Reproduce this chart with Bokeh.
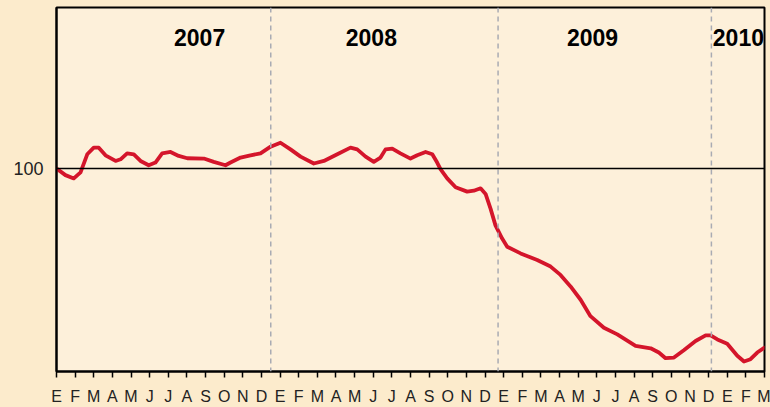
from bokeh.plotting import figure
from bokeh.models import Span, Label, FixedTicker, Range1d
from bokeh.embed import file_html
from bokeh.resources import INLINE

# ---- data (month index from Jan 2007 = 0) ----
months = [0.0, 0.48, 0.93, 1.29, 1.65, 2.00, 2.27, 2.63, 3.17, 3.44, 3.79, 4.15,
          4.51, 4.95, 5.31, 5.67, 6.12, 6.56, 7.02, 7.91, 8.44, 9.07, 9.34, 9.88,
          10.41, 10.95, 11.49, 12.02, 12.56, 13.10, 13.81, 14.35, 15.07, 15.78,
          16.14, 16.59, 17.03, 17.39, 17.66, 18.02, 18.46, 19.00, 19.36, 19.81,
          20.17, 20.43, 20.61, 20.97, 21.42, 22.04, 22.40, 22.76, 23.03, 23.30,
          23.56, 23.92, 24.19, 24.91, 25.80, 26.52, 27.05, 27.59, 28.13, 28.66,
          29.38, 30.10, 31.08, 31.89, 32.33, 32.69, 33.14, 33.67, 34.30, 34.84,
          35.11, 35.47, 36.00, 36.54, 36.90, 37.25, 37.61, 38.00]
index_values = [100.0, 99.16, 98.75, 99.5, 101.79, 102.63, 102.63, 101.66, 100.95,
                101.16, 101.91, 101.79, 100.95, 100.41, 100.75, 101.91, 102.08,
                101.58, 101.29, 101.25, 100.83, 100.41, 100.75, 101.38, 101.66,
                101.91, 102.75, 103.25, 102.41, 101.5, 100.63, 100.95, 101.79,
                102.63, 102.41, 101.5, 100.83, 101.38, 102.41, 102.5, 101.91,
                101.25, 101.66, 102.08, 101.79, 100.75, 99.91, 98.75, 97.63,
                97.08, 97.2, 97.5, 96.79, 94.91, 92.83, 91.16, 90.13, 89.29,
                88.45, 87.63, 86.58, 85.13, 83.45, 81.38, 79.91, 79.08, 77.63,
                77.33, 76.79, 76.08, 76.16, 77.08, 78.25, 78.95, 78.95, 78.45,
                77.91, 76.38, 75.66, 75.95, 76.79, 77.41]
month_labels = ["E", "F", "M", "A", "M", "J", "J", "A", "S", "O", "N", "D"] * 3 + ["E", "F", "M"]
years = ["2007", "2008", "2009", "2010"]
year_label_pos = [7.68, 16.9, 28.77, 36.6]
year_breaks = [11.5, 23.7, 35.15]
reference_level = 100

OUTER = "#FCEBCC"
INNER = "#FDF0DA"

p = figure(width=770, height=407, output_backend="svg", toolbar_location=None,
           x_range=Range1d(0, 38), y_range=Range1d(74.4, 120.3),
           min_border_left=56, min_border_right=6, min_border_top=7, min_border_bottom=33)
p.background_fill_color = INNER
p.border_fill_color = OUTER
p.outline_line_color = "black"
p.outline_line_width = 2
p.grid.visible = False

# x axis
p.xaxis.ticker = FixedTicker(ticks=list(range(len(month_labels))))
p.xaxis.major_label_overrides = {i: lab for i, lab in enumerate(month_labels)}
p.xaxis.minor_tick_line_color = None
p.xaxis.major_tick_in = 0
p.xaxis.major_tick_out = 6
p.xaxis.major_tick_line_width = 1.5
p.xaxis.major_tick_line_color = "black"
p.xaxis.axis_line_width = 2
p.xaxis.axis_line_color = "black"
p.xaxis.major_label_text_font = "Liberation Sans"
p.xaxis.major_label_text_font_size = "16px"
p.xaxis.major_label_text_color = "#222222"
p.xaxis.major_label_standoff = 10

# y axis
p.yaxis.ticker = FixedTicker(ticks=[reference_level])
p.yaxis.minor_tick_line_color = None
p.yaxis.major_tick_in = 0
p.yaxis.major_tick_out = 0
p.yaxis.axis_line_width = 2
p.yaxis.axis_line_color = "black"
p.yaxis.major_label_text_font = "Liberation Sans"
p.yaxis.major_label_text_font_size = "18px"
p.yaxis.major_label_text_color = "#222222"
p.yaxis.major_label_standoff = 13

# year separators
for b in year_breaks:
    p.add_layout(Span(location=b, dimension="height", line_color="#A9ABB3",
                      line_dash="5 4", line_width=1.5))

# reference line
p.add_layout(Span(location=reference_level, dimension="width",
                  line_color="black", line_width=1.5))

# year labels
for y, xpos in zip(years, year_label_pos):
    p.add_layout(Label(x=xpos, y=116.5, text=y, text_align="center",
                       text_baseline="middle", text_font="Liberation Sans",
                       text_font_style="bold", text_font_size="23px",
                       text_color="black"))

p.line(months, index_values, line_color="#D4152B", line_width=3.8,
       line_join="round", line_cap="round")

html = file_html(p, INLINE)
html = html.replace("</head>", "<style>html, body { background-color: %s; }</style></head>" % OUTER, 1)
open("out.html", "w").write(html)
